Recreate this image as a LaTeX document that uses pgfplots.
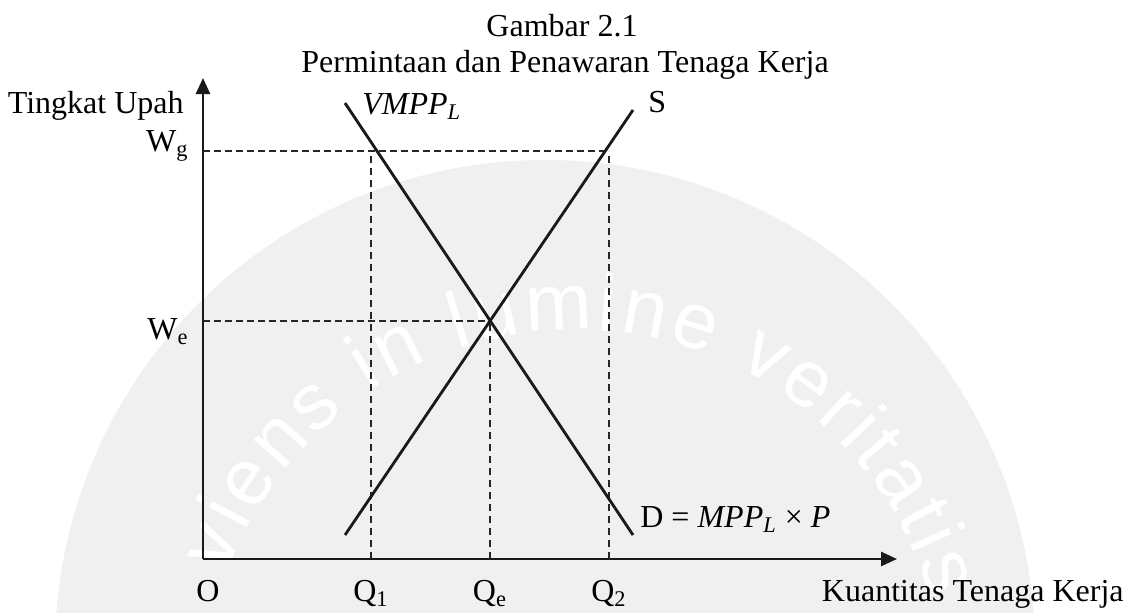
\documentclass[border=0pt]{standalone}
\usepackage{pgfplots}
\pgfplotsset{compat=1.18}
\usepackage{fontspec}
\setmainfont{Liberation Serif}
\newfontfamily\wmfont{Liberation Sans}
\usetikzlibrary{arrows.meta,calc,decorations.text}
\newcommand{\sub}[1]{\textsubscript{#1}}
\tikzset{lbl/.style={inner sep=0pt, font=\fontsize{16}{19}\selectfont}}
\begin{document}
\begin{tikzpicture}
\begin{axis}[
  set layers,
  x=0.5pt, y=0.5pt,
  xmin=0, xmax=694, ymin=0, ymax=481,
  axis lines=left,
  axis line style={line width=1.3pt, black!90, -{Triangle[length=8pt,width=7pt]}},
  clip=false,
  xtick={5,168,287,406},
  xticklabels={O, Q\sub{1}, Q\sub{e}, Q\sub{2}},
  ytick={238,408},
  yticklabels={\raisebox{-9pt}{W\sub{e}}, W\sub{g}},
  major tick length=0pt,
  xticklabel style={anchor=base, yshift=-21pt},
  yticklabel style={anchor=base east, xshift=-7pt},
  tick label style={inner sep=0pt, font=\fontsize{16}{19}\selectfont},
]
% faint watermark in the background
\begin{pgfonlayer}{axis background}
\fill[black!6] (axis cs:342,-91) circle[radius=245pt];
\path[decorate, decoration={text along path, text align=fit to path, text color=white,
  text={|\wmfont\fontsize{40}{40}\selectfont|viens in lumine veritatis}}]
  ($(axis cs:372,-141)+(160:185pt)$) arc[start angle=160, end angle=16, radius=185pt];
\end{pgfonlayer}
% dashed guide lines
\addplot[mark=none, black!85, line width=1pt, dash pattern=on 3.5pt off 2pt] coordinates {(0,408) (406,408)};
\addplot[mark=none, black!85, line width=1pt, dash pattern=on 3.5pt off 2pt] coordinates {(0,238) (287,238)};
\addplot[mark=none, black!85, line width=1pt, dash pattern=on 3.5pt off 2.5pt] coordinates {(168,0) (168,408)};
\addplot[mark=none, black!85, line width=1pt, dash pattern=on 3.5pt off 2.5pt] coordinates {(287,0) (287,238)};
\addplot[mark=none, black!85, line width=1pt, dash pattern=on 3.5pt off 2.5pt] coordinates {(406,0) (406,408)};
% demand (VMPP_L) and supply (S)
\addplot[mark=none, black!90, line width=1.4pt] coordinates {(142,456) (430,24)};
\addplot[mark=none, black!90, line width=1.4pt] coordinates {(142,24) (430,449)};
% texts
\node[lbl, anchor=base] at (axis cs:359,523) {Gambar 2.1};
\node[lbl, anchor=base] at (axis cs:362,487) {Permintaan dan Penawaran Tenaga Kerja};
\node[lbl, anchor=base east] at (axis cs:-19,446) {Tingkat Upah};
\node[lbl, anchor=base west] at (axis cs:159,445) {\textit{VMPP}\sub{\textit{L}}};
\node[lbl, anchor=base west] at (axis cs:445,447) {S};
\node[lbl, anchor=base west] at (axis cs:437,32) {D = \textit{MPP}\sub{\textit{L}} × \textit{P}};
\node[lbl, anchor=base east] at (axis cs:921,-42) {Kuantitas Tenaga Kerja};
% page frame
\coordinate (bbl) at (axis cs:-203,-53);
\coordinate (btr) at (axis cs:924,559);
\end{axis}
\pgfresetboundingbox
\path (bbl) rectangle (btr);
\end{tikzpicture}
\end{document}
